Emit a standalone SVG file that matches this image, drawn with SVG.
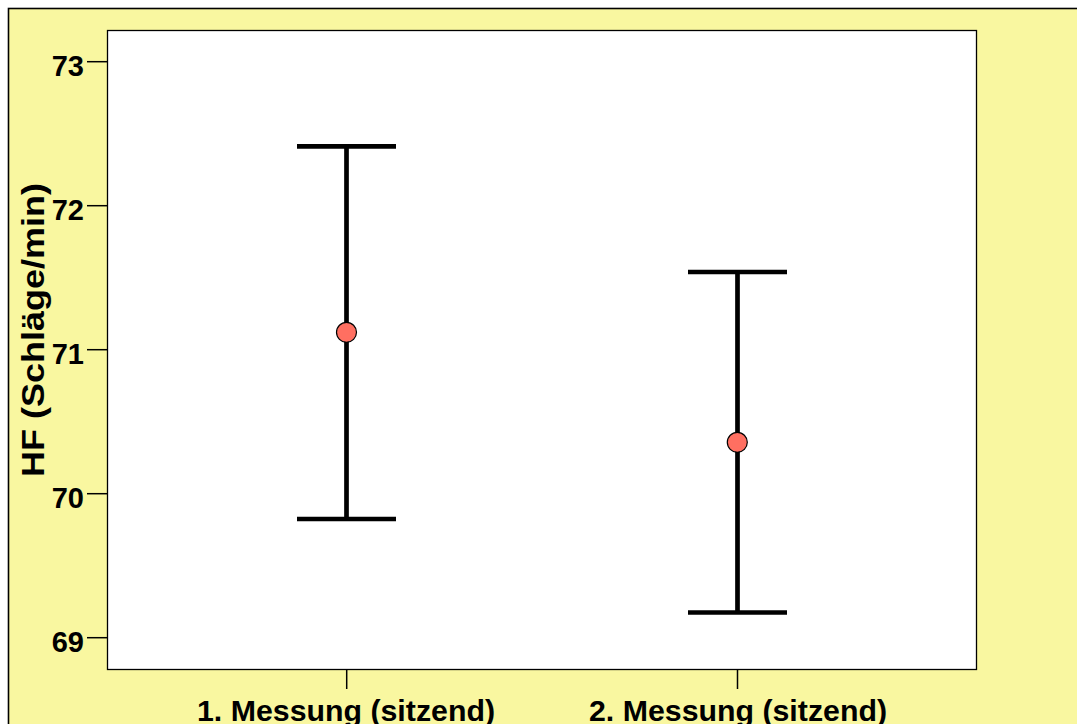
<svg xmlns="http://www.w3.org/2000/svg" width="1077" height="724" viewBox="0 0 1077 724">
<style>
.lbl{font-family:"Liberation Sans",Arial,sans-serif;font-weight:bold;font-size:29px;fill:#000}
.xl{font-size:30px}
.yl{font-size:32px}
.tick{stroke:#000;stroke-width:1.5;fill:none}
.bar{stroke:#000;stroke-width:4.7;fill:none}
.pt{fill:#FF6F61;stroke:#000;stroke-width:1.2}
</style>
<rect x="0" y="0" width="1077" height="724" fill="#ffffff"/>
<rect x="8.5" y="8.5" width="1080" height="730" fill="#F9F7A0" stroke="#000" stroke-width="1.6"/>
<g id="plot-area">
<rect x="107.5" y="30.5" width="869" height="639" fill="#ffffff" stroke="#000" stroke-width="1.3"/>
</g>
<g id="y-axis">
<line class="tick" x1="87" y1="61.7" x2="107" y2="61.7"/>
<line class="tick" x1="87" y1="205.7" x2="107" y2="205.7"/>
<line class="tick" x1="87" y1="349.7" x2="107" y2="349.7"/>
<line class="tick" x1="87" y1="493.7" x2="107" y2="493.7"/>
<line class="tick" x1="87" y1="637.7" x2="107" y2="637.7"/>
<text class="lbl" x="84" y="75.5" text-anchor="end">73</text>
<text class="lbl" x="84" y="219.5" text-anchor="end">72</text>
<text class="lbl" x="84" y="363.5" text-anchor="end">71</text>
<text class="lbl" x="84" y="507.5" text-anchor="end">70</text>
<text class="lbl" x="84" y="651.5" text-anchor="end">69</text>
<text class="lbl yl" transform="translate(44,330) rotate(-90)" text-anchor="middle" textLength="294" lengthAdjust="spacingAndGlyphs">HF (Schläge/min)</text>
</g>
<g id="x-axis">
<line class="tick" x1="346.7" y1="669" x2="346.7" y2="689"/>
<line class="tick" x1="737.5" y1="669" x2="737.5" y2="689"/>
<text class="lbl xl" x="346" y="721" text-anchor="middle" textLength="298" lengthAdjust="spacingAndGlyphs">1. Messung (sitzend)</text>
<text class="lbl xl" x="738" y="721" text-anchor="middle" textLength="298" lengthAdjust="spacingAndGlyphs">2. Messung (sitzend)</text>
</g>
<g id="connectors">
<g id="errorbar-1">
<line class="bar" x1="346.5" y1="146.3" x2="346.5" y2="519"/>
<line class="bar" x1="297" y1="146.3" x2="396" y2="146.3"/>
<line class="bar" x1="297" y1="519" x2="396" y2="519"/>
</g>
<g id="errorbar-2">
<line class="bar" x1="737.5" y1="272" x2="737.5" y2="612.5"/>
<line class="bar" x1="688" y1="272" x2="787" y2="272"/>
<line class="bar" x1="688" y1="612.5" x2="787" y2="612.5"/>
</g>
</g>
<g id="mean-1"><circle class="pt" cx="346.5" cy="332.3" r="10"/></g>
<g id="mean-2"><circle class="pt" cx="737.3" cy="442.3" r="10"/></g>
</svg>
